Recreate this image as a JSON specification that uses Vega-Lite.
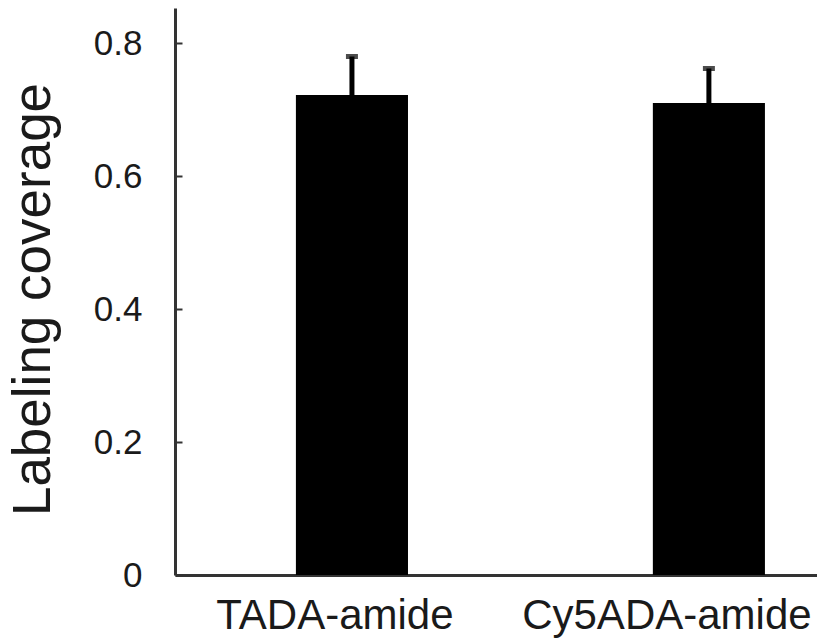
{
  "$schema": "https://vega.github.io/schema/vega-lite/v6.json",
  "width": 642,
  "height": 567,
  "autosize": {"type": "none"},
  "padding": {"left": 175, "top": 8, "right": 0, "bottom": 65},
  "background": "white",
  "data": {
    "values": [
      {"label": "TADA-amide", "value": 0.722, "upper": 0.780},
      {"label": "Cy5ADA-amide", "value": 0.710, "upper": 0.762}
    ]
  },
  "encoding": {
    "x": {
      "field": "label",
      "type": "nominal",
      "sort": null,
      "scale": {"paddingInner": 0.686, "paddingOuter": 0.2423, "align": 0.699},
      "axis": {
        "title": null,
        "labelAngle": 0,
        "labelFont": "Liberation Sans",
        "labelFontSize": 42,
        "labelColor": "#1a1a1a",
        "labelPadding": 20,
        "labelLimit": 0,
        "labelOffset": {"expr": "datum.value == 'TADA-amide' ? -17 : -42"},
        "ticks": false,
        "domainColor": "#333333",
        "domainWidth": 3,
        "labelBound": false,
        "labelOverlap": false
      }
    }
  },
  "layer": [
    {
      "mark": {"type": "bar", "color": "black"},
      "encoding": {
        "y": {
          "field": "value",
          "type": "quantitative",
          "scale": {"domain": [0, 0.853], "nice": false},
          "axis": {
            "title": "Labeling coverage",
            "titleFont": "Liberation Sans",
            "titleFontSize": 53,
            "titleFontWeight": "normal",
            "titleColor": "#1a1a1a",
            "titlePadding": 33,
            "titleY": 291,
            "values": [0, 0.2, 0.4, 0.6, 0.8],
            "format": ".1~f",
            "labelFont": "Liberation Sans",
            "labelFontSize": 35,
            "labelColor": "#1a1a1a",
            "labelPadding": 40,
            "tickSize": -7,
            "tickWidth": 2,
            "tickColor": "#333333",
            "domainColor": "#333333",
            "domainWidth": 3,
            "grid": false
          }
        }
      }
    },
    {
      "mark": {"type": "rule", "color": "black", "strokeWidth": 5},
      "encoding": {
        "y": {"field": "value", "type": "quantitative"},
        "y2": {"field": "upper"}
      }
    },
    {
      "mark": {"type": "tick", "color": "black", "size": 12, "thickness": 5},
      "encoding": {
        "y": {"field": "upper", "type": "quantitative"}
      }
    }
  ],
  "config": {"view": {"stroke": null}}
}
